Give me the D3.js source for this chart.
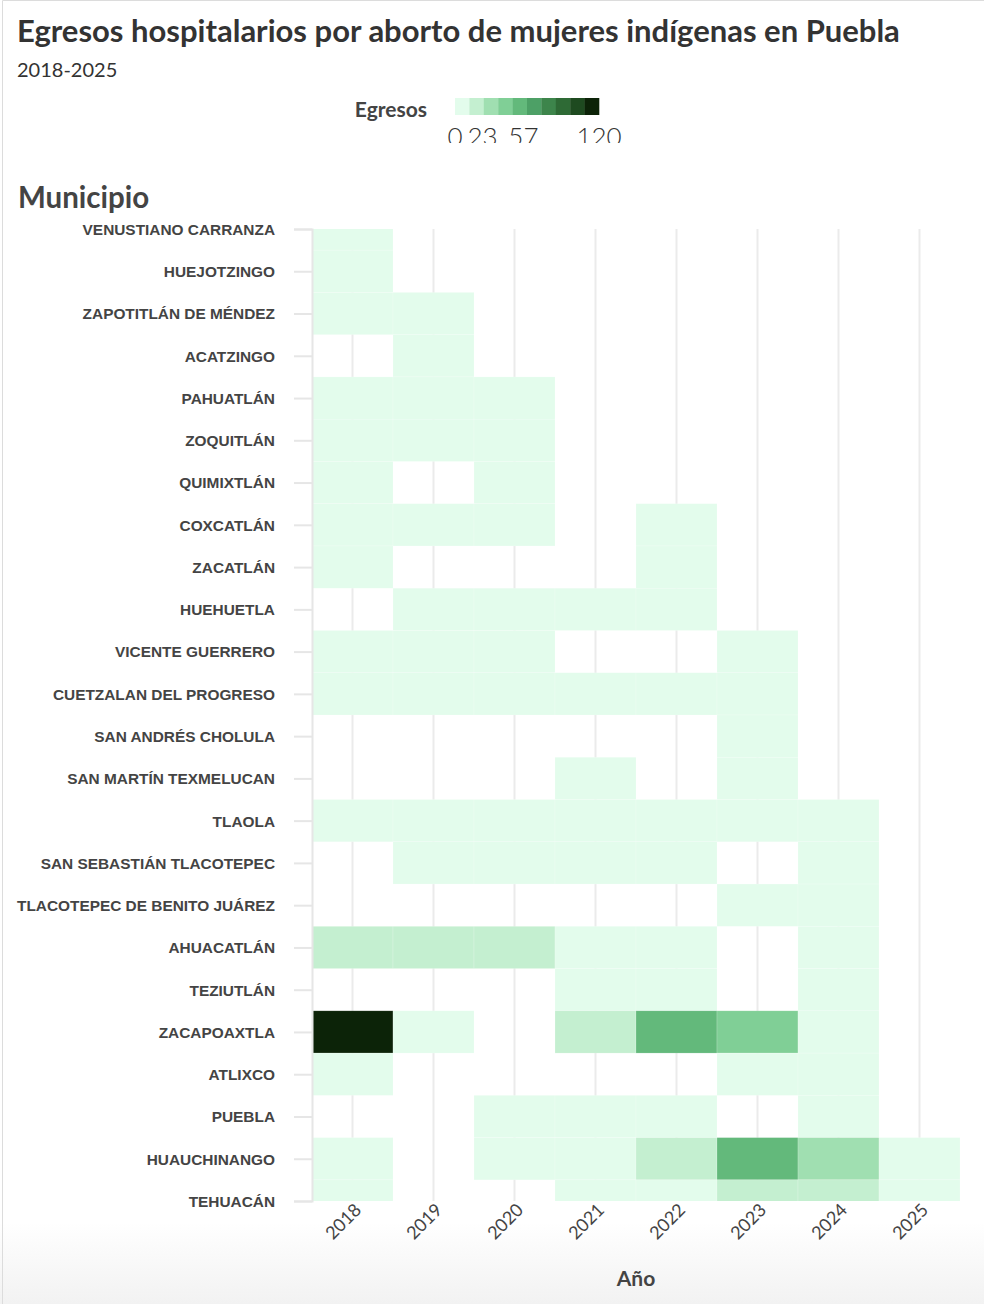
<!DOCTYPE html>
<meta charset="utf-8">
<style>
    body {
        margin: 0;
        background-color: #fff;
    }

    .titulo {
        font: 700 31px Lato, "Open Sans", sans-serif;
        fill: #333;
    }

    .subtitulo {
        font: 400 20px Lato, "Open Sans", sans-serif;
        fill: #333;
    }

    .eje-titulo {
        font: 700 21px Lato, "Open Sans", sans-serif;
        fill: #444;
    }

    .y-eje text {
        font: 700 15.4px "Liberation Sans", Arial, sans-serif;
        fill: #444;
    }

    .y-eje line,
    .y-eje path {
        stroke: #e6e6e6;
        stroke-width: 2px;
    }

    .x-eje text {
        font: 400 18px Lato, "Open Sans", sans-serif;
        fill: #444;
    }

    .grid line {
        stroke: #ebebeb;
        stroke-width: 2px;
    }

    .leyenda text {
        font: 300 26px Lato, "Open Sans", sans-serif;
        fill: #333;
    }
</style>

<body>
    <script src="https://d3js.org/d3.v7.min.js"></script>
    <script>

        var municipios = [
            "VENUSTIANO CARRANZA", "HUEJOTZINGO", "ZAPOTITLÁN DE MÉNDEZ", "ACATZINGO",
            "PAHUATLÁN", "ZOQUITLÁN", "QUIMIXTLÁN", "COXCATLÁN", "ZACATLÁN", "HUEHUETLA",
            "VICENTE GUERRERO", "CUETZALAN DEL PROGRESO", "SAN ANDRÉS CHOLULA",
            "SAN MARTÍN TEXMELUCAN", "TLAOLA", "SAN SEBASTIÁN TLACOTEPEC",
            "TLACOTEPEC DE BENITO JUÁREZ", "AHUACATLÁN", "TEZIUTLÁN", "ZACAPOAXTLA",
            "ATLIXCO", "PUEBLA", "HUAUCHINANGO", "TEHUACÁN"
        ];

        var anios = ["2018", "2019", "2020", "2021", "2022", "2023", "2024", "2025"];

        // egresos por municipio, una columna por año (null = sin registro)
        var egresos = [
            [1, null, null, null, null, null, null, null],
            [1, null, null, null, null, null, null, null],
            [1, 1, null, null, null, null, null, null],
            [null, 1, null, null, null, null, null, null],
            [2, 1, 1, null, null, null, null, null],
            [1, 2, 1, null, null, null, null, null],
            [1, null, 1, null, null, null, null, null],
            [2, 1, 1, null, 1, null, null, null],
            [3, null, null, null, 2, null, null, null],
            [null, 1, 2, 1, 1, null, null, null],
            [2, 1, 1, null, null, 2, null, null],
            [3, 2, 4, 2, 3, 5, null, null],
            [null, null, null, null, null, 3, null, null],
            [null, null, null, 2, null, 4, null, null],
            [3, 4, 5, 6, 4, 3, 5, null],
            [null, 4, 6, 5, 7, null, 6, null],
            [null, null, null, null, null, 10, 9, null],
            [14, 15, 13, 8, 6, null, 5, null],
            [null, null, null, 11, 10, null, 9, null],
            [120, 8, null, 18, 52, 40, 9, null],
            [4, null, null, null, null, 11, 10, null],
            [null, null, 7, 9, 10, null, 11, null],
            [6, null, 8, 10, 23, 57, 30, 3],
            [5, null, null, 9, 11, 16, 20, 4]
        ];

        var colores = ["#e3fcec", "#c4efd0", "#a0dfb1", "#80cf96", "#63b97b",
            "#4da066", "#3d854b", "#2e6a35", "#1e4a20", "#0c2308"];

        var marcasLeyenda = [0, 23, 57, 120];

        var width = 984,
            height = 1304,
            plot = { left: 312, right: 960, top: 229, bottom: 1201 };

        var celdas = [];
        municipios.forEach(function (m, i) {
            anios.forEach(function (a, j) {
                if (egresos[i][j] != null) celdas.push({ municipio: m, anio: a, valor: egresos[i][j] });
            });
        });

        var x = d3.scaleBand()
            .domain(anios)
            .range([plot.left, plot.right]);

        var y = d3.scalePoint()
            .domain(municipios)
            .range([plot.top, plot.bottom]);

        var color = d3.scaleQuantize()
            .domain([0, 120])
            .range(colores);

        var svg = d3.select("body").append("svg")
            .attr("width", width)
            .attr("height", height);

        var defs = svg.append("defs");

        var grad = defs.append("linearGradient")
            .attr("id", "fondo")
            .attr("x1", 0).attr("x2", 0).attr("y1", 0).attr("y2", 1);
        grad.append("stop").attr("offset", "0%").attr("stop-color", "#fff");
        grad.append("stop").attr("offset", "100%").attr("stop-color", "#f2f2f2");

        defs.append("clipPath").attr("id", "clip-plot")
            .append("rect")
            .attr("x", plot.left).attr("y", plot.top)
            .attr("width", plot.right - plot.left).attr("height", plot.bottom - plot.top);

        defs.append("clipPath").attr("id", "clip-leyenda")
            .append("rect")
            .attr("x", 300).attr("y", 80)
            .attr("width", 400).attr("height", 63);

        // fondo y marco
        svg.append("rect")
            .attr("x", 0).attr("y", 1222)
            .attr("width", width).attr("height", height - 1222)
            .attr("fill", "url(#fondo)");

        svg.append("path")
            .attr("d", "M2.5," + height + "V0.5H" + width)
            .attr("fill", "none")
            .attr("stroke", "#dcdcdc");

        svg.append("text")
            .attr("class", "titulo")
            .attr("x", 17).attr("y", 42)
            .text("Egresos hospitalarios por aborto de mujeres indígenas en Puebla");

        svg.append("text")
            .attr("class", "subtitulo")
            .attr("x", 17).attr("y", 77)
            .text("2018-2025");

        // leyenda
        var lx = d3.scaleLinear().domain([0, 120]).range([455, 599]);

        var leyenda = svg.append("g")
            .attr("class", "leyenda")
            .attr("clip-path", "url(#clip-leyenda)");

        leyenda.selectAll("rect")
            .data(colores)
            .enter().append("rect")
            .attr("x", function (d) { return lx(color.invertExtent(d)[0]); })
            .attr("y", 98)
            .attr("width", function (d) { var e = color.invertExtent(d); return lx(e[1]) - lx(e[0]) + 0.3; })
            .attr("height", 17)
            .attr("fill", function (d) { return d; });

        leyenda.selectAll("text")
            .data(marcasLeyenda)
            .enter().append("text")
            .attr("x", function (d) { return lx(d); })
            .attr("y", 146)
            .attr("text-anchor", "middle")
            .text(function (d) { return d; });

        svg.append("text")
            .attr("class", "eje-titulo")
            .attr("x", 427).attr("y", 117)
            .attr("text-anchor", "end")
            .text("Egresos");

        svg.append("text")
            .attr("class", "eje-titulo")
            .attr("x", 18).attr("y", 208)
            .style("font-size", "29.5px")
            .text("Municipio");

        // rejilla vertical
        svg.append("g")
            .attr("class", "grid")
            .selectAll("line")
            .data(anios)
            .enter().append("line")
            .attr("x1", function (d) { return x(d) + x.bandwidth() / 2; })
            .attr("x2", function (d) { return x(d) + x.bandwidth() / 2; })
            .attr("y1", plot.top)
            .attr("y2", plot.bottom);

        svg.append("g")
            .attr("clip-path", "url(#clip-plot)")
            .selectAll("rect")
            .data(celdas)
            .enter().append("rect")
            .attr("x", function (d) { return x(d.anio); })
            .attr("y", function (d) { return y(d.municipio) - y.step() / 2; })
            .attr("width", x.bandwidth())
            .attr("height", y.step())
            .attr("fill", function (d) { return color(d.valor); })
            .attr("stroke", "#fff")
            .attr("stroke-opacity", 0.35)
            .attr("stroke-width", 0.5);

        svg.append("g")
            .attr("class", "y-eje")
            .attr("transform", "translate(" + plot.left + ",0)")
            .call(d3.axisLeft(y).tickSize(18).tickPadding(19))
            .call(function (g) { g.selectAll(".tick text").attr("dy", "0.35em"); });

        var xEje = svg.append("g")
            .attr("class", "x-eje")
            .attr("transform", "translate(0," + plot.bottom + ")")
            .call(d3.axisBottom(x).tickSize(0).tickPadding(0));

        xEje.select(".domain").remove();
        xEje.selectAll(".tick text")
            .attr("text-anchor", "end")
            .attr("dy", null)
            .attr("transform", "translate(10,10) rotate(-45)");

        svg.append("text")
            .attr("class", "eje-titulo")
            .attr("x", (plot.left + plot.right) / 2).attr("y", 1286)
            .attr("text-anchor", "middle")
            .text("Año");

    </script>
</body>
